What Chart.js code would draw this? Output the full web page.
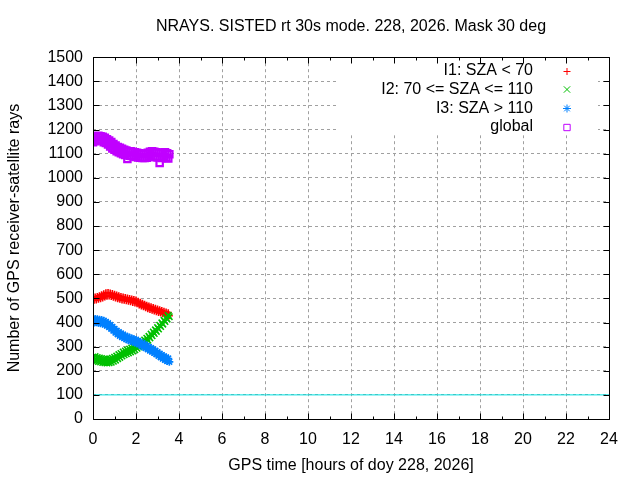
<!DOCTYPE html>
<html>
<head>
<meta charset="utf-8">
<title>NRAYS</title>
<script src="https://cdn.jsdelivr.net/npm/chart.js@4.4.1/dist/chart.umd.min.js"></script>
<style>
  html, body { margin: 0; padding: 0; background: #fff; }
  #wrap { width: 640px; height: 480px; }
</style>
</head>
<body>
<div id="wrap"><canvas id="nraysChart" width="640" height="480"></canvas></div>
<script>
// GPS time, hours of doy 228
const hours = [
  0.00, 0.05, 0.10, 0.15, 0.20, 0.25, 0.30, 0.35, 0.40, 0.45, 0.50, 0.55,
  0.60, 0.65, 0.70, 0.75, 0.80, 0.85, 0.90, 0.95, 1.00, 1.05, 1.10, 1.15,
  1.20, 1.25, 1.30, 1.35, 1.40, 1.45, 1.50, 1.55, 1.60, 1.65, 1.70, 1.75,
  1.80, 1.85, 1.90, 1.95, 2.00, 2.05, 2.10, 2.15, 2.20, 2.25, 2.30, 2.35,
  2.40, 2.45, 2.50, 2.55, 2.60, 2.65, 2.70, 2.75, 2.80, 2.85, 2.90, 2.95,
  3.00, 3.05, 3.10, 3.15, 3.20, 3.25, 3.30, 3.35, 3.40, 3.45, 3.50, 3.55
];

// I1: SZA < 70
const raysI1 = [
  504, 492, 506, 493, 508, 496, 511, 499, 515, 502, 519, 506,
  523, 509, 524, 510, 522, 508, 520, 505, 517, 502, 514, 499,
  511, 496, 508, 493, 506, 492, 504, 490, 502, 488, 500, 486,
  498, 483, 495, 481, 493, 478, 488, 473, 484, 469, 480, 465,
  476, 461, 472, 457, 468, 454, 465, 451, 462, 448, 459, 445,
  456, 442, 453, 439, 450, 436, 447, 433, 444, 430, 441, 428
];

// I2: 70 <= SZA <= 110
const raysI2 = [
  257, 241, 259, 240, 255, 238, 253, 236, 251, 234, 249, 233,
  248, 232, 247, 233, 249, 235, 252, 239, 256, 244, 261, 250,
  267, 255, 272, 261, 278, 266, 282, 270, 286, 274, 290, 278,
  294, 282, 298, 287, 301, 293, 308, 298, 314, 306, 321, 312,
  328, 319, 335, 327, 343, 336, 352, 345, 361, 354, 370, 363,
  379, 373, 389, 383, 399, 393, 409, 404, 420, 414, 430, 424
];

// I3: SZA > 110
const raysI3 = [
  414, 400, 415, 401, 414, 399, 412, 397, 410, 395, 407, 392,
  403, 387, 397, 381, 390, 374, 382, 366, 374, 358, 366, 351,
  360, 345, 354, 340, 350, 335, 345, 331, 341, 327, 337, 323,
  334, 320, 331, 317, 328, 314, 324, 309, 319, 304, 314, 299,
  309, 294, 304, 289, 299, 284, 294, 279, 289, 274, 283, 268,
  277, 262, 271, 256, 265, 250, 260, 245, 255, 240, 251, 237
];

// global
const raysGlobal = [
  1148, 1166, 1152, 1170, 1156, 1174, 1158, 1172, 1155, 1170, 1148, 1166,
  1144, 1160, 1138, 1155, 1130, 1148, 1122, 1140, 1116, 1134, 1110, 1128,
  1106, 1124, 1102, 1120, 1098, 1116, 1095, 1113, 1078, 1110, 1092, 1110,
  1090, 1108, 1088, 1106, 1086, 1104, 1084, 1102, 1083, 1100, 1082, 1099,
  1082, 1100, 1083, 1104, 1086, 1108, 1088, 1110, 1088, 1108, 1086, 1106,
  1084, 1104, 1062, 1102, 1082, 1104, 1084, 1106, 1082, 1102, 1080, 1098
];

// horizontal reference line
const refHours = [0, 24];
const refRays = [100, 100];

const FONT = "'Liberation Sans', Arial, sans-serif";
const FONT_SIZE = 16;

function toPoints(xs, ys) {
  return xs.map((x, i) => ({ x: x, y: ys[i] }));
}

// white key box + gnuplot style border with inward ticks + key on the right
const gnuplotFrame = {
  id: 'gnuplotFrame',
  beforeDatasetsDraw(chart) {
    const { ctx, chartArea: a } = chart;
    ctx.save();
    ctx.fillStyle = '#ffffff';
    ctx.fillRect(a.right - 273, a.top + 1, 262, 77);
    ctx.restore();
  },
  afterDraw(chart) {
    const { ctx, chartArea: a, scales } = chart;
    const L = Math.round(a.left) + 0.5, R = Math.round(a.right) + 0.5;
    const T = Math.round(a.top) + 0.5, B = Math.round(a.bottom) + 0.5;
    ctx.save();
    ctx.strokeStyle = '#000';
    ctx.lineWidth = 1;
    ctx.beginPath();
    // y ticks every 100, both sides
    for (let v = 0; v <= 1500; v += 100) {
      const y = Math.round(scales.y.getPixelForValue(v)) + 0.5;
      ctx.moveTo(L, y); ctx.lineTo(L + 6, y);
      ctx.moveTo(R, y); ctx.lineTo(R - 6, y);
    }
    // x ticks every hour, major every 2 hours
    for (let h = 0; h <= 24; h++) {
      const x = Math.round(scales.x.getPixelForValue(h)) + 0.5;
      const len = h % 2 === 0 ? 6 : 3;
      ctx.moveTo(x, B); ctx.lineTo(x, B - len);
      ctx.moveTo(x, T); ctx.lineTo(x, T + len);
    }
    ctx.rect(L, T, R - L, B - T);
    ctx.stroke();

    // key
    ctx.font = FONT_SIZE + 'px ' + FONT;
    ctx.textAlign = 'right';
    ctx.textBaseline = 'middle';
    const rows = chart.data.datasets.filter(d => d.inKey);
    rows.forEach((d, i) => {
      const y = a.top + 13.5 + i * 18.7;
      ctx.fillStyle = '#000';
      ctx.fillText(d.label, a.right - 76, y);
      ctx.strokeStyle = d.borderColor;
      ctx.fillStyle = 'rgba(0,0,0,0)';
      ctx.lineWidth = 1;
      Chart.helpers.drawPoint(ctx, {
        pointStyle: d.pointStyle, radius: d.pointRadius, rotation: 0, borderWidth: 1
      }, a.right - 42, Math.round(y) + 0.5);
    });
    ctx.restore();
  }
};

Chart.defaults.color = '#000';
Chart.defaults.font.family = FONT;
Chart.defaults.font.size = FONT_SIZE;

function seriesStyle(label, color, style, radius, order) {
  return {
    label: label,
    inKey: true,
    order: order,
    borderColor: color,
    backgroundColor: 'rgba(0,0,0,0)',
    pointStyle: style,
    pointRadius: radius,
    pointBorderWidth: 1.6,
    showLine: false
  };
}

new Chart(document.getElementById('nraysChart'), {
  type: 'scatter',
  data: {
    datasets: [
      Object.assign(seriesStyle('I1: SZA < 70', '#ff0000', 'cross', 3.5, 5), { data: toPoints(hours, raysI1) }),
      Object.assign(seriesStyle('I2: 70 <= SZA <= 110', '#00c000', 'crossRot', 4.5, 4), { data: toPoints(hours, raysI2) }),
      Object.assign(seriesStyle('I3: SZA > 110', '#0080ff', 'star', 4, 3), { data: toPoints(hours, raysI3) }),
      Object.assign(seriesStyle('global', '#c000ff', 'rect', 4.5, 2), { data: toPoints(hours, raysGlobal), pointBorderWidth: 2.2 }),
      {
        label: 'ref',
        type: 'line',
        order: 6,
        data: toPoints(refHours, refRays),
        borderColor: '#00e0e0',
        borderWidth: 1,
        pointRadius: 0
      }
    ]
  },
  options: {
    responsive: false,
    animation: false,
    layout: { padding: { left: 0, right: 31, top: 0, bottom: 0 } },
    plugins: {
      legend: { display: false },
      tooltip: { enabled: false },
      title: {
        display: true,
        fullSize: false,
        text: 'NRAYS. SISTED rt 30s mode. 228, 2026. Mask 30 deg',
        font: { size: FONT_SIZE, weight: 'normal' },
        padding: { top: 17, bottom: 21 }
      }
    },
    scales: {
      x: {
        type: 'linear',
        min: 0,
        max: 24,
        afterFit: s => { s.height = 61; },
        border: { display: false, dash: [3, 3] },
        grid: { color: '#a0a0a0', drawTicks: false, lineWidth: 1 },
        ticks: { stepSize: 2, padding: 11, maxRotation: 0, callback: v => String(v) },
        title: {
          display: true,
          text: 'GPS time [hours of doy 228, 2026]',
          padding: { top: 0, bottom: 5 }
        }
      },
      y: {
        type: 'linear',
        min: 0,
        max: 1500,
        afterFit: s => { s.width = 93; },
        border: { display: false, dash: [3, 3] },
        grid: { color: '#a0a0a0', drawTicks: false, lineWidth: 1 },
        ticks: { stepSize: 100, padding: 10, callback: v => String(v) },
        title: {
          display: true,
          text: 'Number of GPS receiver-satellite rays',
          padding: { top: 5, bottom: 0 }
        }
      }
    }
  },
  plugins: [gnuplotFrame]
});
</script>
</body>
</html>
